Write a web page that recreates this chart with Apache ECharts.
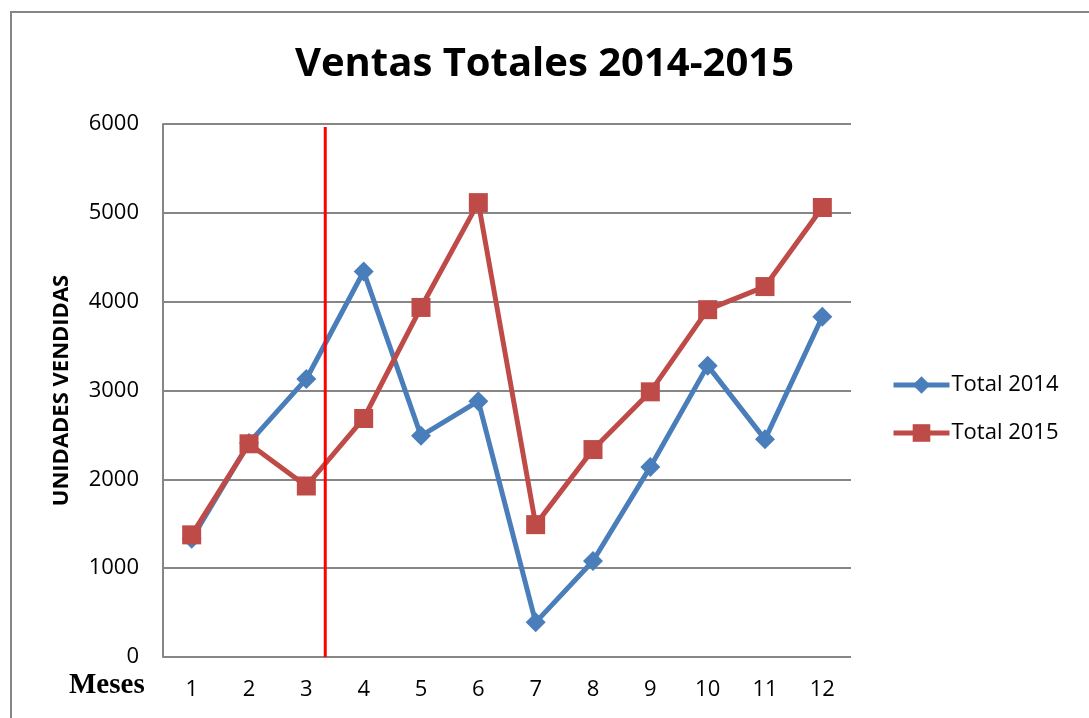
<!DOCTYPE html>
<html>
<head>
<meta charset="utf-8">
<script src="https://cdn.jsdelivr.net/npm/echarts@6/dist/echarts.min.js"></script>
<style>html,body{margin:0;padding:0;background:#fff}#c{width:1089px;height:718px}</style>
</head>
<body>
<div id="c"></div>
<script>
const months = ['1','2','3','4','5','6','7','8','9','10','11','12'];
const total2014 = [1330, 2410, 3130, 4340, 2490, 2880, 390, 1080, 2140, 3280, 2450, 3830];
const total2015 = [1375, 2400, 1925, 2685, 3935, 5115, 1490, 2335, 2985, 3910, 4170, 5060];
const redLine = [[3.33, 0], [3.33, 5966]];
const yMin = 0, yMax = 6000, yStep = 1000;

const chart = echarts.init(document.getElementById('c'), null, {renderer: 'canvas'});
const font = 'Open Sans';
chart.setOption({
  animation: false,
  backgroundColor: '#fff',
  graphic: [{
    type: 'rect', shape: {x: 11, y: 12, width: 1100, height: 720},
    style: {fill: 'none', stroke: '#868686', lineWidth: 2}, z: -1
  }, {
    type: 'text', left: 69, top: 671,
    style: {text: 'Meses', font: 'bold 29px "Liberation Serif"', fill: '#000'}
  }],
  title: {
    text: 'Ventas Totales 2014-2015', left: 'center', top: 40,
    textStyle: {fontFamily: font, fontWeight: 'bold', fontSize: 40, color: '#000'}
  },
  legend: {
    orient: 'vertical', left: 891, top: 374, itemGap: 26, padding: 0,
    itemWidth: 56, itemHeight: 22,
    lineStyle: {width: 5},
    textStyle: {fontFamily: font, fontSize: 22, color: '#000', padding: [0,0,0,-3]},
    data: ['Total 2014', 'Total 2015']
  },
  grid: {left: 163, right: 238, top: 124, bottom: 61, containLabel: false},
  xAxis: [{
    type: 'category', data: months, boundaryGap: true,
    axisLine: {show: false}, axisTick: {show: false},
    axisLabel: {fontFamily: font, fontSize: 22, color: '#000', margin: 22}
  }, {
    type: 'value', min: 0.5, max: 12.5, show: false
  }],
  yAxis: {
    type: 'value', min: yMin, max: yMax, interval: yStep,
    name: 'UNIDADES VENDIDAS', nameLocation: 'middle', nameGap: 90, nameRotate: 90,
    nameTextStyle: {fontFamily: font, fontWeight: 'bold', fontSize: 22, color: '#000'},
    axisLine: {show: true, lineStyle: {color: '#868686', width: 2}},
    axisTick: {show: false},
    axisLabel: {fontFamily: font, fontSize: 22, color: '#000', margin: 24, formatter: v => String(v)},
    splitLine: {show: true, lineStyle: {color: '#868686', width: 2}}
  },
  series: [{
    name: 'Total 2014', type: 'line', data: total2014,
    symbol: 'diamond', symbolSize: 20,
    lineStyle: {color: '#4A7EBB', width: 5},
    itemStyle: {color: '#4A7EBB'}, z: 3
  }, {
    name: 'Total 2015', type: 'line', data: total2015,
    symbol: 'rect', symbolSize: 19,
    lineStyle: {color: '#BE4B48', width: 5},
    itemStyle: {color: '#BE4B48'}, z: 4
  }, {
    name: 'marker', type: 'line', xAxisIndex: 1, data: redLine,
    symbol: 'none', lineStyle: {color: '#FF0000', width: 3}, z: 5, silent: true
  }]
});
</script>
</body>
</html>
